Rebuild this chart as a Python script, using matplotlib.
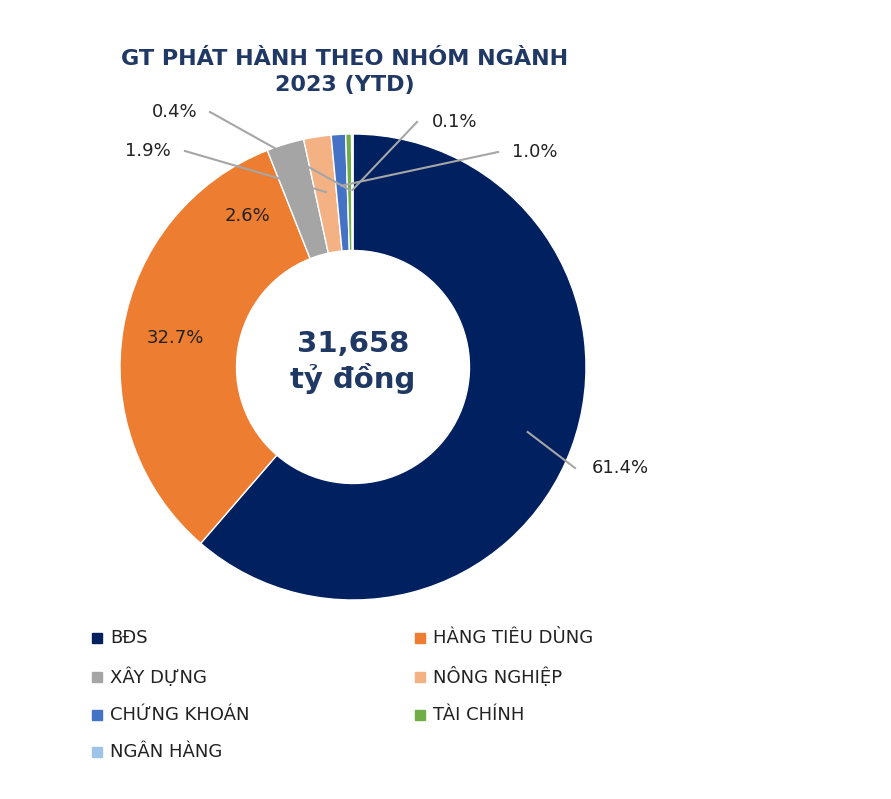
import matplotlib
matplotlib.use("Agg")
import matplotlib.pyplot as plt
import numpy as np

categories = ["BĐS", "HÀNG TIÊU DÙNG", "XÂY DỰNG", "NÔNG NGHIỆP", "CHỨNG KHOÁN", "TÀI CHÍNH", "NGÂN HÀNG"]
values = [61.4, 32.7, 2.6, 1.9, 1.0, 0.4, 0.1]
colors = ["#002060", "#ED7D31", "#A5A5A5", "#F4B183", "#4472C4", "#70AD47", "#9DC3E6"]
title = "GT PHÁT HÀNH THEO NHÓM NGÀNH\n2023 (YTD)"
center_text = "31,658\ntỷ đồng"

W, H = 891, 799
fig = plt.figure(figsize=(W/100, H/100), dpi=100)
ax = fig.add_axes([0, 0, 1, 1])
ax.set_xlim(0, W); ax.set_ylim(0, H); ax.set_aspect("equal"); ax.axis("off")

cx, cy, R = 353, H - 367, 233
wedges, _ = ax.pie(values, colors=colors, startangle=90, counterclock=False,
                   center=(cx, cy), radius=R,
                   wedgeprops=dict(width=R*0.5, edgecolor="white", linewidth=1), frame=True)
ax.set_xlim(0, W); ax.set_ylim(0, H); ax.axis("off")

navy = "#1F3864"
ax.text(345, H-72, title, ha="center", va="center", fontsize=16, fontweight="bold",
        color=navy, linespacing=1.35)
ax.text(cx, H-362, center_text, ha="center", va="center", fontsize=21, fontweight="bold",
        color=navy, linespacing=1.2)

def mid(i):
    w = wedges[i]
    return np.deg2rad((w.theta1 + w.theta2) / 2)

lab_col = "#222222"
line_col = "#A6A6A6"
# inside labels
for i, (x, y) in [(1, (175, 338)), (2, (248, 216))]:
    ax.text(x, H-y, f"{values[i]:.1f}%", ha="center", va="center", fontsize=13, color=lab_col)
# outside labels with leader lines: (index, text pos, anchor side, elbow)
outs = [(0, (620, 468), "center", (575, 468), 0.7),
        (3, (148, 151), "center", (185, 151), 0.76),
        (5, (175, 112), "center", (210, 112), 0.76),
        (6, (455, 122), "center", (417, 122), 0.76),
        (4, (535, 152), "center", (498, 152), 0.78)]
for i, (tx, ty), ha, (ex, ey), rf in outs:
    a = mid(i)
    px, py = cx + R*rf*np.cos(a), cy + R*rf*np.sin(a)
    if i == 0:
        px, py = cx + R*0.8*np.cos(a), cy + R*0.8*np.sin(a)
    ax.plot([ex, px], [H-ey, py], color=line_col, lw=1.5)
    ax.text(tx, H-ty, f"{values[i]:.1f}%", ha=ha, va="center", fontsize=13, color=lab_col)

# legend
pos = [(97, 638), (420, 638), (97, 677), (420, 677), (97, 715), (420, 715), (97, 752)]
for (x, y), c, name in zip(pos, colors, categories):
    ax.add_patch(plt.Rectangle((x-5, H-y-5), 10, 10, color=c))
    ax.text(x+13, H-y, name, ha="left", va="center", fontsize=13, color=lab_col)

fig.savefig("out.png", dpi=100)
